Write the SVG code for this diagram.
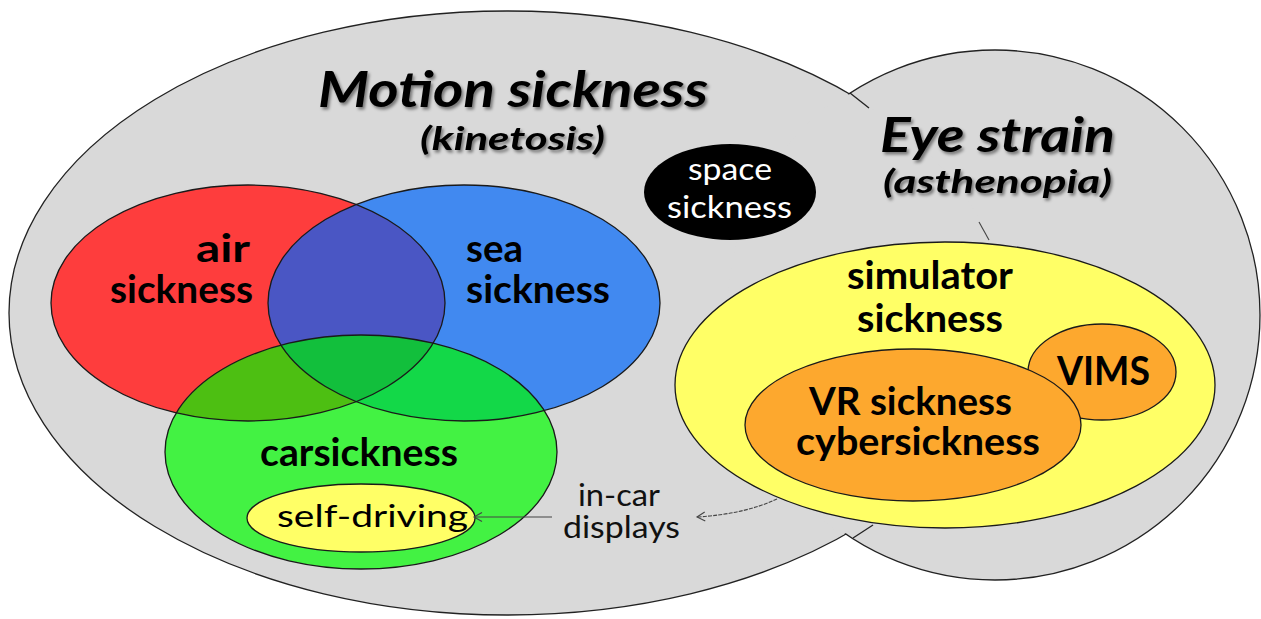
<svg xmlns="http://www.w3.org/2000/svg" width="1261" height="619" viewBox="0 0 1261 619">
<style>
  .bg{fill:#d9d9d9;stroke:#222;stroke-width:1.3}
  .ol{fill:none;stroke:#1a1a1a;stroke-width:1.3}
  .b{font-family:Lato,"Open Sans","Liberation Sans",sans-serif;font-weight:bold;fill:#000}
  .bi{font-family:Lato,"Open Sans","Liberation Sans",sans-serif;font-weight:bold;font-style:italic;fill:#000}
  .r{font-family:Lato,"Open Sans","Liberation Sans",sans-serif;font-weight:normal;fill:#000}
  .conn{fill:none;stroke:#444;stroke-width:1.1}
</style>
<defs>
  <filter id="sh" x="-10%" y="-20%" width="120%" height="150%">
    <feDropShadow dx="2" dy="2.5" stdDeviation="1.6" flood-color="#000" flood-opacity="0.45"/>
  </filter>
  <clipPath id="cEye"><ellipse cx="995" cy="315" rx="268" ry="268"/></clipPath>
  <clipPath id="cRed"><ellipse cx="248" cy="303" rx="197" ry="118"/></clipPath>
  <clipPath id="cBlue"><ellipse cx="464" cy="303" rx="196" ry="118"/></clipPath>
  <marker id="arr" viewBox="-10 -6 12 12" refX="0" refY="0" markerWidth="12" markerHeight="12" markerUnits="userSpaceOnUse" orient="auto">
    <path d="M-8,-4.5 L0,0 L-8,4.5" fill="none" stroke="#444" stroke-width="1.1"/>
  </marker>
</defs>

<g id="motion-sickness">
  <ellipse class="bg" cx="507" cy="313" rx="498" ry="302"/>
</g>
<g id="eye-strain">
  <ellipse class="bg" cx="995" cy="315" rx="265" ry="265"/>
  <ellipse cx="507" cy="313" rx="497" ry="301" fill="#d9d9d9" clip-path="url(#cEye)"/>
  <line x1="850" y1="93" x2="869" y2="108" stroke="#222" stroke-width="1.3"/>
  <line x1="853" y1="538" x2="873" y2="525" stroke="#222" stroke-width="1.3"/>
  <text class="bi" x="880" y="152" font-size="48" textLength="235" lengthAdjust="spacingAndGlyphs" filter="url(#sh)">Eye strain</text>
  <text class="bi" x="883" y="193" font-size="32" textLength="229" lengthAdjust="spacingAndGlyphs" filter="url(#sh)">(asthenopia)</text>
</g>
<g id="motion-title">
  <text class="bi" x="318" y="107" font-size="49" textLength="390" lengthAdjust="spacingAndGlyphs" filter="url(#sh)">Motion sickness</text>
  <text class="bi" x="420" y="150" font-size="32" textLength="185" lengthAdjust="spacingAndGlyphs" filter="url(#sh)">(kinetosis)</text>
</g>

<g id="space-sickness">
  <ellipse cx="730" cy="192" rx="86" ry="48" fill="#000"/>
  <text class="r" x="688" y="180" font-size="30" style="fill:#fff" textLength="84" lengthAdjust="spacingAndGlyphs">space</text>
  <text class="r" x="667" y="218" font-size="30" style="fill:#fff" textLength="125" lengthAdjust="spacingAndGlyphs">sickness</text>
</g>

<g id="air-sickness">
  <ellipse cx="248" cy="303" rx="197" ry="118" fill="#fe3d3d"/>
</g>
<g id="sea-sickness">
  <ellipse cx="464" cy="303" rx="196" ry="118" fill="#4189f0"/>
  <g clip-path="url(#cRed)"><ellipse cx="464" cy="303" rx="196" ry="118" fill="#4a56c4"/></g>
</g>
<g id="carsickness">
  <ellipse cx="361" cy="452" rx="196" ry="117" fill="#43f243"/>
  <g clip-path="url(#cRed)"><ellipse cx="361" cy="452" rx="196" ry="117" fill="#4dbf12"/></g>
  <g clip-path="url(#cBlue)"><ellipse cx="361" cy="452" rx="196" ry="117" fill="#13d848"/></g>
  <g clip-path="url(#cRed)"><g clip-path="url(#cBlue)"><ellipse cx="361" cy="452" rx="196" ry="117" fill="#12bf3c"/></g></g>
</g>
<g id="venn-outlines">
  <ellipse class="ol" cx="248" cy="303" rx="197" ry="118"/>
  <ellipse class="ol" cx="464" cy="303" rx="196" ry="118"/>
  <ellipse class="ol" cx="361" cy="452" rx="196" ry="117"/>
</g>
<g id="venn-labels">
  <text class="b" x="196" y="262" font-size="39" textLength="54" lengthAdjust="spacingAndGlyphs">air</text>
  <text class="b" x="110" y="303" font-size="39" textLength="143" lengthAdjust="spacingAndGlyphs">sickness</text>
  <text class="b" x="466" y="262" font-size="39" textLength="57" lengthAdjust="spacingAndGlyphs">sea</text>
  <text class="b" x="466" y="303" font-size="39" textLength="144" lengthAdjust="spacingAndGlyphs">sickness</text>
  <text class="b" x="260" y="466" font-size="39" textLength="198" lengthAdjust="spacingAndGlyphs">carsickness</text>
</g>
<g id="self-driving">
  <ellipse cx="361" cy="518" rx="114" ry="34" fill="#ffff66" stroke="#1a1a1a" stroke-width="1.3"/>
  <text class="r" x="277" y="527" font-size="30" textLength="191" lengthAdjust="spacingAndGlyphs">self-driving</text>
</g>

<g id="simulator-sickness">
  <ellipse cx="945" cy="385" rx="270" ry="143" fill="#ffff66" stroke="#1a1a1a" stroke-width="1.3"/>
  <text class="b" x="847" y="289" font-size="39" textLength="166" lengthAdjust="spacingAndGlyphs">simulator</text>
  <text class="b" x="857" y="332" font-size="39" textLength="146" lengthAdjust="spacingAndGlyphs">sickness</text>
</g>
<g id="vims">
  <ellipse cx="1102" cy="372" rx="74" ry="48" fill="#fda82e" stroke="#1a1a1a" stroke-width="1.3"/>
  <text class="b" x="1057" y="385" font-size="40" textLength="93" lengthAdjust="spacingAndGlyphs">VIMS</text>
</g>
<g id="vr-sickness">
  <ellipse cx="913" cy="425" rx="168" ry="76" fill="#fda82e" stroke="#1a1a1a" stroke-width="1.3"/>
  <text class="b" x="809" y="415" font-size="39" textLength="203" lengthAdjust="spacingAndGlyphs">VR sickness</text>
  <text class="b" x="796" y="455" font-size="39" textLength="244" lengthAdjust="spacingAndGlyphs">cybersickness</text>
</g>

<g id="in-car-displays">
  <text class="r" x="578" y="506" font-size="30" textLength="82" lengthAdjust="spacingAndGlyphs" style="fill:#111">in-car</text>
  <text class="r" x="563" y="538" font-size="30" textLength="117" lengthAdjust="spacingAndGlyphs" style="fill:#111">displays</text>
</g>

<g id="connectors">
  <line class="conn" x1="552" y1="517" x2="474" y2="517" marker-end="url(#arr)"/>
  <path class="conn" d="M777,499 Q745,514 697,517" stroke-dasharray="4 1.2" marker-end="url(#arr)"/>
  <line class="conn" x1="979" y1="222" x2="989" y2="240"/>
</g>
</svg>
